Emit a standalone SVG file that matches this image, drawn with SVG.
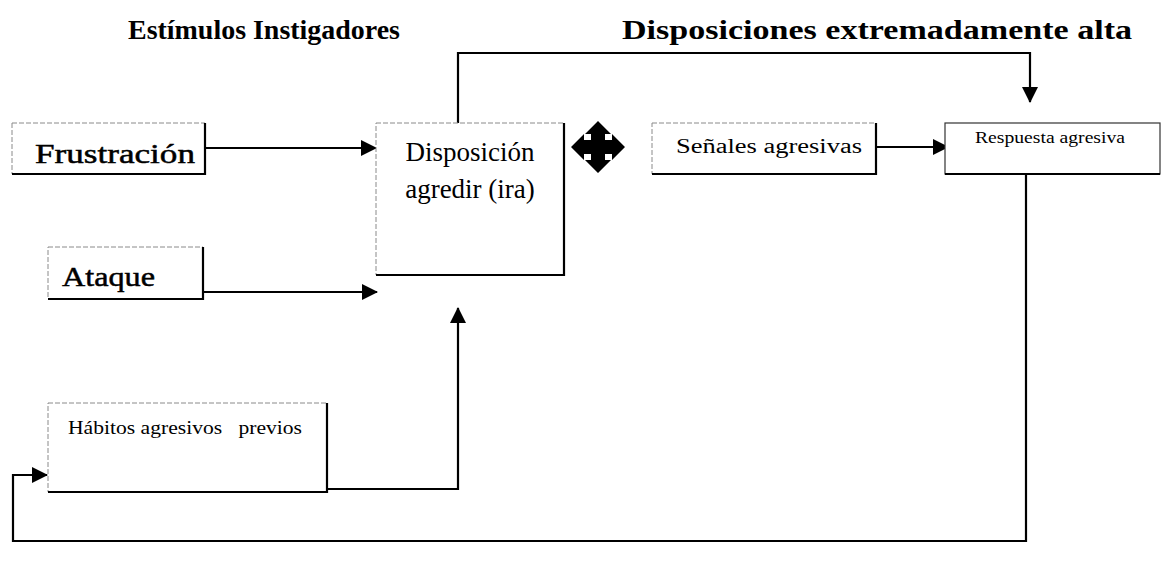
<svg xmlns="http://www.w3.org/2000/svg" width="1162" height="564" viewBox="0 0 1162 564">
  <style>
    .box { fill: #fff; stroke: #8a8a8a; stroke-width: 1; stroke-dasharray: 5 2; }
    .shadow { fill: none; stroke: #000; stroke-width: 2.2; }
    .title { font-family: "Liberation Serif", "Times New Roman", serif; font-weight: bold; font-size: 27px; fill: #000; }
    .lbl { font-family: "Liberation Serif", "Times New Roman", serif; fill: #000; }
    .wire { fill: none; stroke: #000; stroke-width: 2.2; }
  </style>
  <defs>
    <marker id="arr" viewBox="0 0 16 16" refX="15" refY="8" markerWidth="16" markerHeight="16" markerUnits="userSpaceOnUse" orient="auto">
      <path d="M0,0 L16,8 L0,16 Z" fill="#000"/>
    </marker>
  </defs>
  <rect width="1162" height="564" fill="#fff"/>

  <text class="title" x="128" y="39" textLength="272" lengthAdjust="spacingAndGlyphs">Estímulos Instigadores</text>
  <text class="title" x="622" y="39" textLength="510" lengthAdjust="spacingAndGlyphs">Disposiciones extremadamente alta</text>

  <g id="connectors">
    <line class="wire" x1="205" y1="148" x2="376" y2="148" marker-end="url(#arr)"/>
    <line class="wire" x1="203" y1="292" x2="377" y2="292" marker-end="url(#arr)"/>
    <path class="wire" d="M327,489 H458 V308" marker-end="url(#arr)"/>
    <path class="wire" d="M458,124 V53 H1030 V102" marker-end="url(#arr)"/>
    <line class="wire" x1="876" y1="147" x2="948" y2="147" marker-end="url(#arr)"/>
    <path class="wire" d="M1026,175 V541 H13 V475 H47" marker-end="url(#arr)"/>
  </g>

  <g id="frustracion">
    <rect class="box" x="12" y="123" width="193" height="51"/>
    <path class="shadow" d="M12,174 H205 V123"/>
    <text class="lbl" x="35" y="163" font-size="28" stroke="#000" stroke-width="0.5" textLength="160" lengthAdjust="spacingAndGlyphs">Frustración</text>
  </g>

  <g id="ataque">
    <rect class="box" x="48" y="247" width="155" height="52"/>
    <path class="shadow" d="M48,299 H203 V247"/>
    <text class="lbl" x="62" y="286" font-size="28" stroke="#000" stroke-width="0.5" textLength="93" lengthAdjust="spacingAndGlyphs">Ataque</text>
  </g>

  <g id="habitos">
    <rect class="box" x="48" y="403" width="279" height="89"/>
    <path class="shadow" d="M48,492 H327 V403"/>
    <text class="lbl" x="68" y="434" font-size="19" textLength="234" lengthAdjust="spacingAndGlyphs" xml:space="preserve">Hábitos agresivos   previos</text>
  </g>

  <g id="disposicion">
    <rect class="box" x="376" y="123" width="188" height="152"/>
    <path class="shadow" d="M376,275 H564 V123"/>
    <text class="lbl" x="470" y="161" font-size="27" text-anchor="middle">Disposición</text>
    <text class="lbl" x="470" y="198" font-size="27" text-anchor="middle">agredir (ira)</text>
  </g>

  <g id="mover">
    <polygon fill="#000" points="598,121 611,134 605,134 605,140 612,140 612,134 625,147 612,160 612,154 605,154 605,160 611,160 598,173 585,160 591,160 591,154 584,154 584,160 571,147 584,134 584,140 591,140 591,134 585,134"/>
  </g>

  <g id="senales">
    <rect class="box" x="652" y="123" width="224" height="51"/>
    <path class="shadow" d="M652,174 H876 V123"/>
    <text class="lbl" x="676" y="153" font-size="20" textLength="186" lengthAdjust="spacingAndGlyphs">Señales agresivas</text>
  </g>

  <g id="respuesta">
    <rect x="945" y="123" width="215" height="51" fill="#fff" stroke="#333" stroke-width="1.2"/>
    <path class="shadow" d="M945,174 H1160"/>
    <text class="lbl" x="975" y="143" font-size="17" textLength="150" lengthAdjust="spacingAndGlyphs">Respuesta agresiva</text>
  </g>
</svg>
